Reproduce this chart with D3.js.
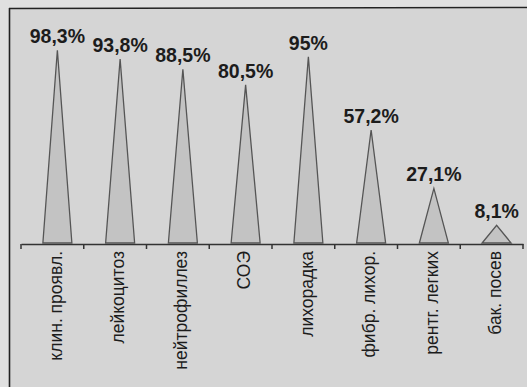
<!DOCTYPE html>
<html><head><meta charset="utf-8">
<script src="https://cdn.jsdelivr.net/npm/d3@7"></script>
<style>
html,body{margin:0;padding:0;background:#e0e0e0;}
svg{display:block;}
</style></head>
<body>
<svg id="c" width="527" height="387"></svg>
<script>
const categories = ["клин. проявл.", "лейкоцитоз", "нейтрофиллез", "СОЭ", "лихорадка", "фибр. лихор.", "рентг. легких", "бак. посев"];
const values = [98.3, 93.8, 88.5, 80.5, 95, 57.2, 27.1, 8.1];
const valueLabels = ["98,3%", "93,8%", "88,5%", "80,5%", "95%", "57,2%", "27,1%", "8,1%"];

const svg = d3.select("#c");
const W = 527, H = 387;
const baseY = 244;

// frame background
svg.append("rect").attr("x", 10).attr("y", 9).attr("width", W - 10).attr("height", H - 9).attr("fill", "#d5d5d5");
svg.append("line").attr("x1", 9.5).attr("x2", 9.5).attr("y1", 8).attr("y2", H).attr("stroke", "#222").attr("stroke-width", 1.6);
svg.append("line").attr("x1", 9).attr("x2", W).attr("y1", 8.5).attr("y2", 7.5).attr("stroke", "#222").attr("stroke-width", 1.6);

const x = d3.scaleBand().domain(categories).range([21, 523]).padding(0);
const y = d3.scaleLinear().domain([0, 100]).range([241, 47]);
const off = 5;
const halfW = 14.5;

// axis
const axis = d3.axisBottom(x).tickSize(0).tickFormat("");
const gA = svg.append("g").attr("transform", `translate(0,${baseY})`).call(axis);
gA.select(".domain").attr("stroke", "#333").attr("stroke-width", 1.5);
// tick marks at band boundaries
const bounds = categories.map(c => x(c)).concat([x.range()[1]]);
gA.selectAll("line.tk").data(bounds).join("line").attr("class", "tk")
  .attr("x1", d => d).attr("x2", d => d).attr("y1", 0).attr("y2", 5)
  .attr("stroke", "#333").attr("stroke-width", 1.5);

// triangles
svg.append("g").selectAll("path").data(categories).join("path")
  .attr("d", (c, i) => {
    const cx = x(c) + x.bandwidth() / 2 + off;
    return `M${cx - halfW},${baseY - 1}L${cx},${y(values[i])}L${cx + halfW},${baseY - 1}Z`;
  })
  .attr("fill", "#c3c3c3").attr("stroke", "#555").attr("stroke-width", 1.3).attr("stroke-linejoin", "miter");

// value labels
svg.append("g").selectAll("text").data(categories).join("text")
  .attr("x", (c) => x(c) + x.bandwidth() / 2 + off)
  .attr("y", (c, i) => y(values[i]) - 7)
  .attr("text-anchor", "middle")
  .attr("font-family", "Liberation Sans, Arial, sans-serif")
  .attr("font-weight", "bold").attr("font-size", 19.5).attr("fill", "#1c1c1c")
  .text((c, i) => valueLabels[i]);

// category labels
svg.append("g").selectAll("text").data(categories).join("text")
  .attr("transform", c => `translate(${x(c) + x.bandwidth() / 2 + off - 2},251) rotate(-90)`)
  .attr("text-anchor", "end").attr("dy", "0.35em")
  .attr("font-family", "Liberation Sans, Arial, sans-serif")
  .attr("font-size", 17.5).attr("fill", "#1c1c1c")
  .text(c => c);
</script>
</body></html>
